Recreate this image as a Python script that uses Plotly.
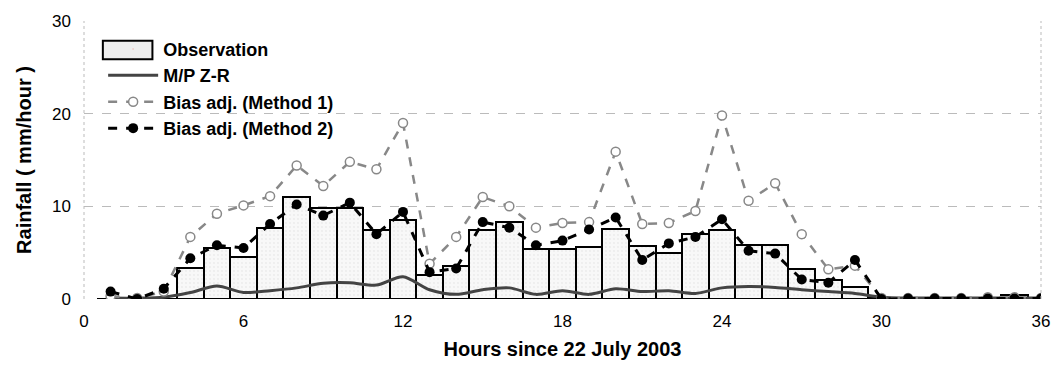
import plotly.graph_objects as go

hours = list(range(1, 37))
obs_hours = list(range(1, 37))
observation = [0, 0, 0, 3.3, 5.5, 4.5, 7.7, 11.0, 9.8, 9.8, 7.4, 8.5,
               2.6, 3.6, 7.4, 8.3, 5.4, 5.4, 5.6, 7.6, 5.7, 5.0, 7.0, 7.4,
               5.8, 5.8, 3.2, 2.1, 1.25, 0.15, 0.05, 0.05, 0.1, 0.1, 0.4, 0.05]
mp_zr = [0.1, 0.1, 0.2, 0.7, 1.4, 0.7, 0.9, 1.2, 1.7, 1.75, 1.5, 2.4,
         1.0, 0.5, 1.0, 1.2, 0.5, 0.9, 0.5, 1.1, 0.8, 0.9, 0.6, 1.2,
         1.35, 1.25, 1.0, 0.8, 0.6, 0.2, 0.1, 0.1, 0.1, 0.1, 0.1, 0.1]
method1 = [0.3, 0.1, 0.8, 6.7, 9.2, 10.1, 11.1, 14.4, 12.2, 14.8, 14.0, 19.0,
           3.8, 6.7, 11.0, 10.0, 7.7, 8.2, 8.3, 15.9, 8.1, 8.2, 9.5, 19.8,
           10.6, 12.5, 7.0, 3.2, 3.6, 0.1, 0.1, 0.1, 0.1, 0.2, 0.2, 0.1]
method2 = [0.8, 0.0, 1.1, 4.4, 5.8, 5.5, 8.1, 10.2, 9.0, 10.4, 7.0, 9.4,
           2.9, 3.3, 8.3, 7.7, 5.8, 6.3, 7.5, 8.8, 4.2, 6.0, 6.7, 8.6,
           5.2, 4.9, 2.1, 1.75, 4.2, 0.0, 0.05, 0.05, 0.05, 0.05, 0.05, 0.05]
x_ticks = [0, 6, 12, 18, 24, 30, 36]
y_ticks = [0, 10, 20, 30]

bar_pattern = dict(shape=".", fgcolor="#c8c8c8", bgcolor="#f8f8f8", size=4, solidity=0.1)

fig = go.Figure()
fig.add_trace(go.Bar(
    x=obs_hours, y=observation, width=1, name="Observation",
    marker=dict(color="#f6f6f6", line=dict(color="black", width=2), pattern=bar_pattern),
    showlegend=False))
# legend entry for observation (symbol drawn as a wide box below)
fig.add_trace(go.Scatter(
    x=[None], y=[None], mode="markers", name="Observation",
    marker=dict(size=1, opacity=0), legendgroup="a"))
fig.add_trace(go.Scatter(
    x=hours, y=mp_zr, mode="lines", name="M/P Z-R",
    line=dict(color="#444444", width=3, shape="spline", smoothing=0.8),
    legendgroup="b"))
fig.add_trace(go.Scatter(
    x=hours, y=method1, mode="lines+markers", name="Bias adj. (Method 1)",
    line=dict(color="#888888", width=2.5, dash="dash"),
    marker=dict(symbol="circle", size=9, color="white", line=dict(color="#888888", width=1.5)),
    legendgroup="c"))
fig.add_trace(go.Scatter(
    x=hours, y=method2, mode="lines+markers", name="Bias adj. (Method 2)",
    line=dict(color="black", width=3, dash="dash"),
    marker=dict(symbol="circle", size=10, color="black"),
    legendgroup="d"))

fig.update_layout(
    width=1062, height=369,
    margin=dict(l=84, r=13, t=17, b=70),
    paper_bgcolor="white", plot_bgcolor="white",
    font=dict(family="Liberation Sans, Arial, sans-serif", size=17, color="black"),
    bargap=0,
    showlegend=True,
    legend=dict(x=0.02, y=0.965, xanchor="left", yanchor="top",
                bgcolor="rgba(255,255,255,0)", borderwidth=0,
                font=dict(size=18, family="Liberation Sans, Arial, sans-serif", weight="bold"),
                tracegroupgap=0, itemwidth=50, traceorder="grouped"),
    xaxis=dict(range=[0, 36], tickvals=x_ticks, ticktext=[str(v) for v in x_ticks],
               showgrid=False, zeroline=False, showline=False, ticks="",
               ticklabelstandoff=10,
               title=dict(text="<b>Hours since 22 July 2003</b>", font=dict(size=20), standoff=11)),
    yaxis=dict(range=[0, 30], tickvals=y_ticks, ticktext=[str(v) for v in y_ticks],
               showgrid=True, gridcolor="#bbbbbb", griddash="dash", gridwidth=1,
               zeroline=False, showline=False, ticks="",
               ticklabelstandoff=12,
               title=dict(text="<b>Rainfall ( mm/hour )</b>", font=dict(size=20), standoff=15)),
)
fig.add_shape(type="line", xref="paper", yref="paper", x0=0, x1=0, y0=0, y1=1,
              line=dict(color="#bbbbbb", width=1, dash="dot"))
fig.add_shape(type="line", xref="paper", yref="paper", x0=1, x1=1, y0=0, y1=1,
              line=dict(color="#bbbbbb", width=1, dash="dot"))
# wide legend box for "Observation"
fig.add_shape(type="rect", xref="paper", yref="paper", x0=0.0197, x1=0.0715, y0=0.862, y1=0.929,
              line=dict(color="black", width=2), fillcolor="#eeeeee", layer="above")

fig.write_html("out.html")
